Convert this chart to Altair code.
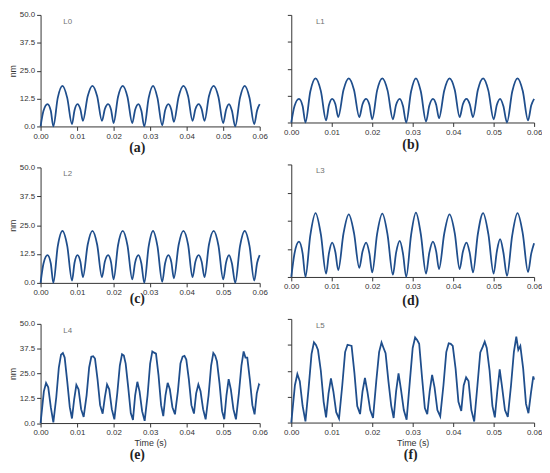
import altair as alt
import pandas as pd

# ---------------- data ----------------
t_smooth = [
    0.0000, 0.0008, 0.0019, 0.0028, 0.0035, 0.0047, 0.0060, 0.0073,
    0.0086, 0.0093, 0.0101, 0.0109, 0.0116, 0.0129, 0.0142, 0.0155,
    0.0168, 0.0176, 0.0185, 0.0193, 0.0200, 0.0212, 0.0225, 0.0238,
    0.0251, 0.0259, 0.0268, 0.0276, 0.0284, 0.0296, 0.0308, 0.0320,
    0.0333, 0.0341, 0.0350, 0.0358, 0.0365, 0.0378, 0.0391, 0.0404,
    0.0416, 0.0424, 0.0433, 0.0441, 0.0449, 0.0461, 0.0474, 0.0487,
    0.0500, 0.0508, 0.0516, 0.0524, 0.0533, 0.0546, 0.0559, 0.0572,
    0.0585, 0.0593, 0.0600,
]

L0 = [
    0, 7, 10, 7, 0, 12.8, 18.2, 12.8,
    1, 7.3, 10, 7.7, 2.5, 13.5, 18.2, 13.5,
    2.5, 7.8, 10, 7.5, 1.5, 13.2, 18.2, 13.2,
    1.5, 7.5, 10, 7, 0, 12.8, 18.2, 12.8,
    0.5, 7.2, 10, 7.5, 2, 13.3, 18.2, 13.5,
    2.5, 7.8, 10, 7.8, 2.5, 13.5, 18.2, 13.2,
    1.5, 7.5, 10, 7, 0, 12.8, 18.2, 12.9,
    1, 7.3, 10,
]

L1 = [
    0, 7.7, 11, 7.7, 0, 14.4, 20.5, 14.7,
    1, 8, 11, 8.5, 2.5, 15.1, 20.5, 15.1,
    2.5, 8.5, 11, 8.2, 1.5, 14.8, 20.5, 14.8,
    1.5, 8.2, 11, 7.7, 0, 14.4, 20.5, 14.5,
    0.5, 7.8, 11, 8.3, 2, 14.9, 20.5, 15.1,
    2.5, 8.5, 11, 8.5, 2.5, 15.1, 20.5, 14.8,
    1.5, 8.2, 11, 7.7, 0, 14.4, 20.5, 14.6,
    1, 8, 11,
]

L2 = [
    0, 8.4, 12, 8.4, 0, 15.8, 22.5, 16,
    1, 8.7, 12, 9.2, 2.5, 16.5, 22.5, 16.5,
    2.5, 9.2, 12, 8.9, 1.5, 16.2, 22.5, 16.2,
    1.5, 8.9, 12, 8.4, 0, 15.8, 22.5, 15.9,
    0.5, 8.5, 12, 9, 2, 16.4, 22.5, 16.5,
    2.5, 9.2, 12, 9.2, 2.5, 16.5, 22.5, 16.2,
    1.5, 8.9, 12, 8.4, 0, 15.8, 22.5, 16,
    1, 8.7, 12,
]

L3 = [
    0, 10.5, 15.7, 10.5, 0, 18.5, 28.4, 19,
    1.5, 10.5, 15.3, 11, 3, 19.3, 27.8, 19.5,
    4, 11.3, 15.3, 10.5, 2, 19, 28.1, 18.6,
    1, 10.8, 16, 10.4, 0, 18.6, 28.6, 19.1,
    1.5, 10.7, 15.7, 11.4, 3.5, 19.3, 27.8, 19.4,
    3.5, 11.2, 15.3, 10.6, 2, 19.1, 28.4, 19,
    1.5, 11.4, 16.8, 11, 0.5, 18.6, 28.4, 19.3,
    2.2, 10.5, 15,
]

t_rough = [
    0.0000, 0.0009, 0.0015, 0.0021, 0.0028, 0.0035, 0.0043, 0.0050, 0.0056, 0.0061, 0.0066, 0.0073, 0.0080,
    0.0086, 0.0092, 0.0098, 0.0104, 0.0111, 0.0118, 0.0126, 0.0133, 0.0139, 0.0144, 0.0149, 0.0156, 0.0163,
    0.0170, 0.0176, 0.0182, 0.0188, 0.0195, 0.0202, 0.0210, 0.0217, 0.0223, 0.0228, 0.0233, 0.0240, 0.0247,
    0.0253, 0.0259, 0.0265, 0.0271, 0.0278, 0.0285, 0.0293, 0.0300, 0.0306, 0.0311, 0.0316, 0.0323, 0.0330,
    0.0336, 0.0342, 0.0348, 0.0354, 0.0361, 0.0368, 0.0376, 0.0383, 0.0389, 0.0394, 0.0399, 0.0406, 0.0413,
    0.0420, 0.0426, 0.0432, 0.0438, 0.0445, 0.0452, 0.0460, 0.0467, 0.0473, 0.0478, 0.0483, 0.0490, 0.0497,
    0.0503, 0.0509, 0.0515, 0.0521, 0.0528, 0.0535, 0.0543, 0.0550, 0.0556, 0.0561, 0.0566, 0.0573, 0.0580,
    0.0586, 0.0592, 0.0598, 0.0600,
]

L4 = [
    0, 16, 20.2, 18, 8, 0.3, 13, 28, 34.5, 35.3, 33, 21, 8,
    2.3, 12, 19.2, 17, 7, 3.1, 14, 28, 33.4, 33.7, 32.5, 22, 9,
    4.7, 13, 19.4, 17, 7, 1.9, 15, 29, 34.7, 34, 30, 18, 5,
    1.6, 14, 20.8, 16, 6, 1.1, 14, 30, 36.1, 35.5, 35, 24, 9,
    3.5, 14, 20.3, 17, 8, 4.4, 16, 30, 33.5, 33.9, 32, 22, 9,
    4.8, 15, 19.4, 16, 7, 1.9, 14, 29, 35.3, 34, 31, 20, 6,
    1.9, 14, 22.1, 17, 7, 1.9, 15, 29, 36.1, 33, 33, 22, 9,
    4.4, 15, 19.4, 18.9,
]

L5 = [
    0, 18, 23.4, 20, 8, 0.6, 17, 33, 38.7, 37.5, 35, 25, 10,
    2.5, 14, 21.3, 15, 5, 1.9, 18, 34, 37.5, 37.3, 37, 24, 8,
    4.1, 15, 21.5, 15, 6, 2.2, 20, 34, 38.6, 36, 33.5, 20, 8,
    2.2, 15, 23.7, 16, 6, 1.4, 20, 36, 41, 39.8, 38, 22, 7,
    4, 15, 23, 17, 6, 3, 18, 34, 38.2, 38, 37, 26, 10,
    5.6, 17.9, 21.8, 20, 6, 0.5, 18, 33.8, 36.5, 39, 36, 25, 8,
    2.5, 15, 25.7, 17, 6, 2.7, 18, 34, 41.4, 35.1, 37, 26, 9,
    4.5, 14, 22.3, 20.7,
]

X_TICKS = [0.0, 0.01, 0.02, 0.03, 0.04, 0.05, 0.06]
Y_TICKS = [0.0, 12.5, 25.0, 37.5, 50.0]
LINE_COLOR = "#1f4e8c"


def panel(t, v, label, caption, left, bottom, w, h, interp, cap_offset, cap_dx):
    df = pd.DataFrame({"t": t, "v": v})
    x = alt.X(
        "t:Q",
        scale=alt.Scale(domain=[0, 0.06], nice=False),
        axis=alt.Axis(
            values=X_TICKS, format=".2f", labelFlush=False, labelOverlap=False,
            title="Time (s)" if bottom else None, titlePadding=2,
        ),
    )
    y = alt.Y(
        "v:Q",
        scale=alt.Scale(domain=[0, 50], nice=False),
        axis=alt.Axis(
            values=Y_TICKS, format=".1f", labels=left,
            title="nm" if left else None, titlePadding=2,
        ),
    )
    line = alt.Chart(df).mark_line(
        color=LINE_COLOR, strokeWidth=1.8, interpolate=interp
    ).encode(x=x, y=y)
    lab = alt.Chart(pd.DataFrame({"s": [label]})).mark_text(
        align="left", baseline="middle", fontSize=8, color="#707070",
        font="Liberation Sans",
    ).encode(
        x=alt.value(23 if left else 25), y=alt.value(7), text="s:N"
    )
    return alt.layer(line, lab).properties(
        width=w, height=h,
        title=alt.TitleParams(
            caption, orient="bottom", anchor="middle",
            offset=cap_offset, dx=cap_dx,
        ),
    )


pa = panel(t_smooth, L0, "L0", "(a)", True, False, 222, 113, "monotone", 0.5, -13)
pc = panel(t_smooth, L2, "L2", "(c)", True, False, 222, 117, "monotone", -4.5, -13)
pe = panel(t_rough, L4, "L4", "(e)", True, True, 222, 100.5, "linear", 0.5, -13)

pb = panel(t_smooth, L1, "L1", "(b)", False, False, 246, 109, "monotone", 2, -2)
pd_ = panel(t_smooth, L3, "L3", "(d)", False, False, 246, 114, "monotone", 3, -2)
pf = panel(t_rough, L5, "L5", "(f)", False, True, 246, 105, "linear", 0.5, -2)

left_col = alt.vconcat(pa, pc, pe, spacing=41.5, bounds="flush")
right_col = alt.vconcat(pb, pd_, pf, spacing=42.5, bounds="flush")

chart = (
    alt.hconcat(left_col, right_col, spacing=16)
    .properties(padding={"left": 0, "top": 0, "right": 0, "bottom": 0})
    .configure_axis(
        grid=False, domainColor="#333333", tickColor="#333333", tickSize=4,
        labelFont="Liberation Sans", labelFontSize=8, labelColor="#333333",
        labelPadding=2, titleFont="Liberation Sans", titleFontSize=9,
        titleFontWeight="normal", titleColor="#333333",
    )
    .configure_view(stroke=None)
    .configure_title(
        font="Liberation Serif", fontSize=14, fontWeight="bold", color="#222222"
    )
)

chart.save("out.html", embed_options={"renderer": "svg", "actions": False})
